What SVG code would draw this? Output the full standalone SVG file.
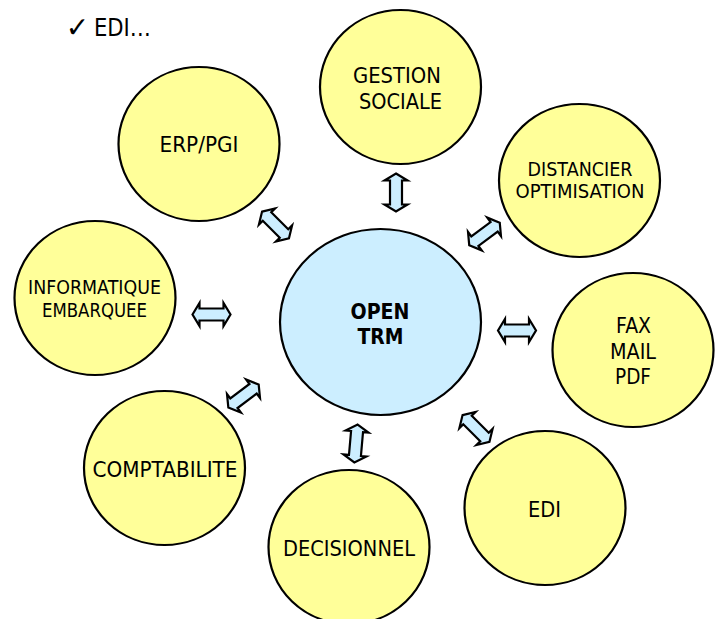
<svg xmlns="http://www.w3.org/2000/svg" width="723" height="619" viewBox="0 0 723 619">
<style>
text{font-family:"DejaVu Sans","Noto Sans",sans-serif;fill:#000;text-anchor:middle;font-size:21px}
.s{font-size:19px}
.b{font-weight:bold;font-size:21px}
.n{fill:#ffff99;stroke:#000;stroke-width:2.2}
.c{fill:#cceeff;stroke:#000;stroke-width:2.2}
.a{fill:#cceeff;stroke:#000;stroke-width:2.2;stroke-linejoin:miter}
</style>
<defs><path id="arr" class="a" d="M-19,0 L-12,-11.5 V-6 H12 V-11.5 L19,0 L12,11.5 V6 H-12 V11.5Z"/></defs>
<rect width="723" height="619" fill="#fff"/>
<g id="note"><text x="77.5" y="37" style="font-size:28px">✓</text><text x="122.5" y="36" style="font-size:24px" textLength="57" lengthAdjust="spacingAndGlyphs">EDI…</text></g>
<g id="connectors">
<use href="#arr" transform="translate(275.5,225) rotate(45)"/>
<use href="#arr" transform="translate(396,192.5) rotate(90)"/>
<use href="#arr" transform="translate(484.5,234) rotate(-36.6)"/>
<use href="#arr" transform="translate(517,330.5)"/>
<use href="#arr" transform="translate(476,428.5) rotate(45)"/>
<use href="#arr" transform="translate(356,443.5) rotate(95)"/>
<use href="#arr" transform="translate(243.5,396) rotate(-37)"/>
<use href="#arr" transform="translate(211.5,314.5)"/>
</g>
<g id="open-trm"><ellipse class="c" cx="380.5" cy="322" rx="100.5" ry="93"/><text class="b" x="380" y="318.5" textLength="59" lengthAdjust="spacingAndGlyphs">OPEN</text><text class="b" x="380.5" y="344" textLength="46" lengthAdjust="spacingAndGlyphs">TRM</text></g>
<g id="gestion"><ellipse class="n" cx="400.5" cy="87" rx="80.5" ry="77"/><text x="397" y="83" textLength="88" lengthAdjust="spacingAndGlyphs">GESTION</text><text x="400.5" y="108.5" textLength="83" lengthAdjust="spacingAndGlyphs">SOCIALE</text></g>
<g id="erp"><ellipse class="n" cx="199" cy="144" rx="80.5" ry="77"/><text x="199" y="152" textLength="79" lengthAdjust="spacingAndGlyphs">ERP/PGI</text></g>
<g id="distancier"><ellipse class="n" cx="579.5" cy="180.5" rx="80.5" ry="76.5"/><text class="s" x="580" y="176" textLength="105" lengthAdjust="spacingAndGlyphs">DISTANCIER</text><text class="s" x="580" y="198" textLength="129" lengthAdjust="spacingAndGlyphs">OPTIMISATION</text></g>
<g id="fax"><ellipse class="n" cx="633" cy="350" rx="80.5" ry="77"/><text x="633.5" y="333" textLength="35" lengthAdjust="spacingAndGlyphs">FAX</text><text x="633" y="359" textLength="46" lengthAdjust="spacingAndGlyphs">MAIL</text><text x="633" y="384" textLength="36" lengthAdjust="spacingAndGlyphs">PDF</text></g>
<g id="edi"><ellipse class="n" cx="545" cy="508" rx="80.5" ry="77"/><text x="544.5" y="517" textLength="33" lengthAdjust="spacingAndGlyphs">EDI</text></g>
<g id="decisionnel"><ellipse class="n" cx="349" cy="547" rx="80.5" ry="77"/><text x="349" y="556" textLength="132" lengthAdjust="spacingAndGlyphs">DECISIONNEL</text></g>
<g id="comptabilite"><ellipse class="n" cx="164.5" cy="468" rx="80.5" ry="77"/><text x="165" y="477" textLength="145" lengthAdjust="spacingAndGlyphs">COMPTABILITE</text></g>
<g id="informatique"><ellipse class="n" cx="95" cy="298" rx="80.5" ry="77"/><text class="s" x="94.5" y="294" textLength="133" lengthAdjust="spacingAndGlyphs">INFORMATIQUE</text><text class="s" x="94.5" y="317" textLength="105" lengthAdjust="spacingAndGlyphs">EMBARQUEE</text></g>
</svg>
